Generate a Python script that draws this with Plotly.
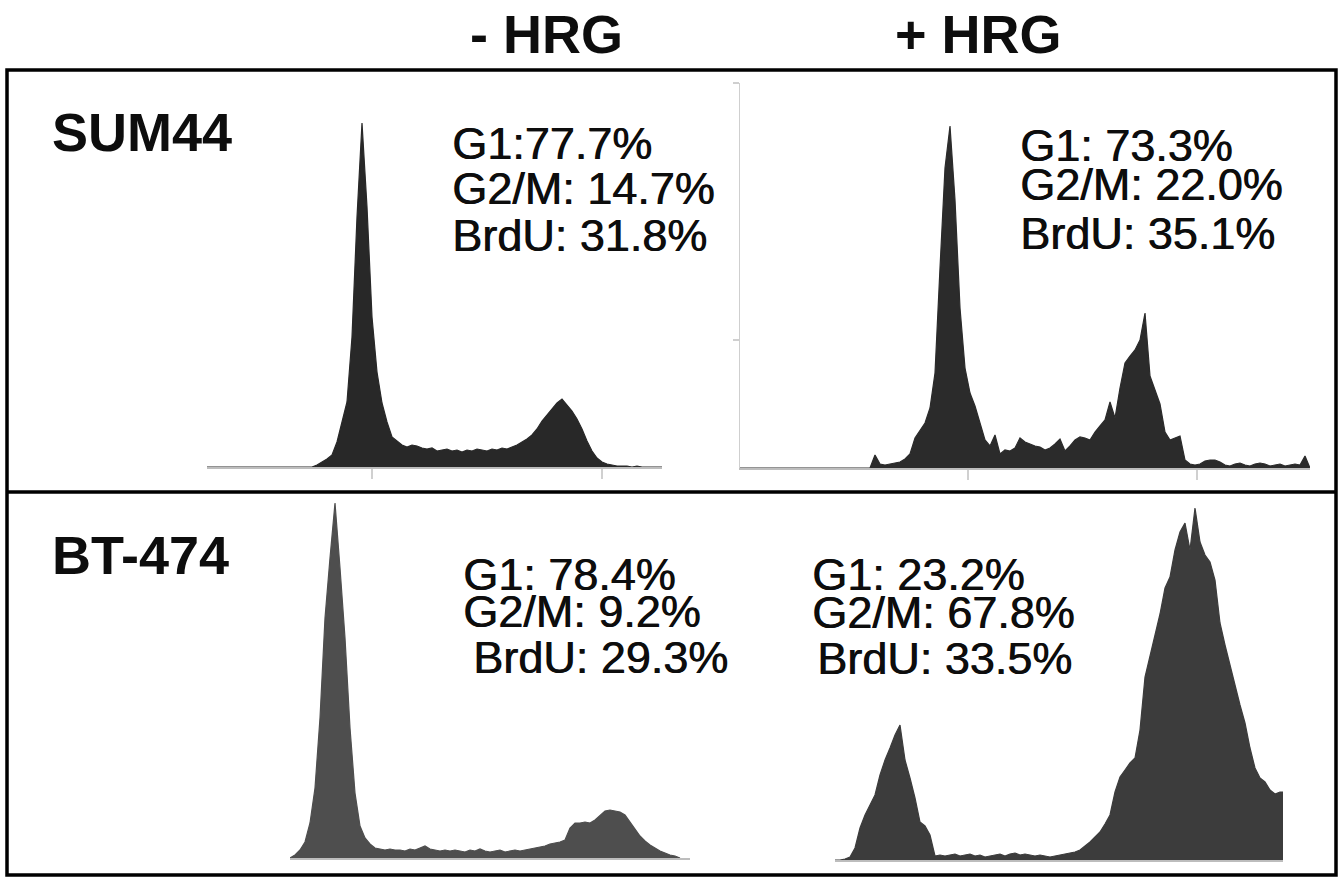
import plotly.graph_objects as go

W, H = 1342, 878

# ---------------- data: DNA-content histograms (counts per channel) ----------------
sum44_minus_hrg = [
    0, 0, 0, 0, 0, 0, 0, 0, 0, 0,
    0, 0, 0, 0, 0, 0, 0, 0, 0, 0,
    0, 0, 2, 5, 8, 12, 25, 45, 65, 130,
    250, 344, 260, 150, 95, 64, 45, 30, 26, 22,
    20, 22, 21, 19, 18, 19, 16, 17, 18, 16,
    17, 15, 17, 16, 18, 17, 16, 18, 17, 19,
    18, 20, 22, 25, 28, 32, 38, 46, 52, 58,
    64, 68, 62, 56, 48, 38, 26, 16, 9, 5,
    3, 2, 1, 1, 1, 0, 1, 0, 0, 0,
    0, 0,
]

sum44_plus_hrg = [
    0, 0, 0, 0, 0, 0, 0, 0, 0, 0,
    0, 0, 0, 0, 0, 0, 0, 0, 0, 0,
    0, 0, 0, 0, 0, 0, 0, 13, 4, 3,
    4, 5, 6, 9, 14, 30, 37, 45, 60, 95,
    200, 300, 342, 268, 160, 100, 75, 62, 45, 28,
    22, 33, 14, 18, 17, 20, 30, 26, 24, 22,
    21, 18, 20, 24, 29, 17, 22, 28, 31, 30,
    28, 36, 42, 48, 66, 50, 80, 105, 112, 118,
    128, 155, 92, 78, 64, 36, 28, 30, 32, 8,
    4, 3, 4, 7, 8, 8, 6, 3, 2, 4,
    5, 3, 2, 4, 5, 4, 2, 3, 4, 2,
    3, 4, 3, 12, 0,
]

bt474_minus_hrg = [
    0, 3, 8, 16, 35, 70, 140, 240, 300, 355,
    290, 220, 130, 65, 32, 20, 14, 10, 9, 8,
    9, 8, 8, 7, 9, 8, 10, 12, 9, 8,
    7, 8, 7, 8, 7, 6, 8, 7, 9, 7,
    6, 7, 8, 6, 7, 8, 7, 8, 9, 10,
    11, 12, 14, 15, 16, 18, 30, 35, 35, 36,
    35, 38, 43, 47, 48, 47, 46, 43, 36, 28,
    22, 17, 13, 10, 7, 5, 3, 2, 0,
]

bt474_plus_hrg = [
    0, 0, 1, 3, 12, 32, 45, 55, 65, 85,
    100, 112, 125, 135, 100, 82, 62, 38, 34, 25,
    4, 5, 4, 5, 6, 4, 5, 6, 4, 5,
    3, 4, 5, 6, 4, 6, 7, 5, 6, 5,
    4, 5, 4, 3, 4, 5, 6, 7, 8, 10,
    14, 18, 23, 28, 36, 45, 68, 83, 90, 97,
    102, 130, 183, 205, 225, 246, 272, 283, 310, 328,
    337, 310, 352, 318, 305, 298, 280, 237, 215, 195,
    172, 155, 137, 112, 92, 82, 78, 70, 66, 68,
    68,
]

cell_lines = ["SUM44", "BT-474"]
treatments = ["- HRG", "+ HRG"]

g1_text = ["G1:77.7%", "G1: 73.3%", "G1: 78.4%", "G1: 23.2%"]
g2m_text = ["G2/M: 14.7%", "G2/M: 22.0%", "G2/M: 9.2%", "G2/M: 67.8%"]
brdu_text = ["BrdU: 31.8%", "BrdU: 35.1%", "BrdU: 29.3%", "BrdU: 33.5%"]

# ---------------- layout helpers (pixel -> paper) ----------------
def fx(p):
    return p / W

def fy(p):
    return 1 - p / H

PX_PER_CH = 5.0
FONT = "Liberation Sans, Arial"

panels = [
    dict(counts=sum44_minus_hrg, x0=207, x1=662, base=467, top=100, color="#282828",
         xt=[33, 79], yline=False, yt=None,
         txt=(450, 450, 450), ty=(143, 189, 236)),
    dict(counts=sum44_plus_hrg, x0=740, x1=1310, base=468, top=83, color="#2b2b2b",
         xt=[45.6, 91.4], yline=True, yt=[128, 385],
         txt=(1018, 1018, 1018), ty=(146, 185, 233)),
    dict(counts=bt474_minus_hrg, x0=290, x1=690, base=858, top=500, color="#4e4e4e",
         xt=None, yline=False, yt=None,
         txt=(461, 461, 471), ty=(574, 611, 657)),
    dict(counts=bt474_plus_hrg, x0=835, x1=1283, base=860, top=500, color="#3c3c3c",
         xt=None, yline=False, yt=None,
         txt=(810, 810, 815), ty=(574, 612, 658)),
]

fig = go.Figure()
layout = dict(
    width=W, height=H, autosize=False,
    margin=dict(l=0, r=0, t=0, b=0, pad=0),
    paper_bgcolor="white", plot_bgcolor="rgba(0,0,0,0)",
    showlegend=False,
)

annotations = []
for i, p in enumerate(panels):
    n = i + 1
    xa = "x" if n == 1 else f"x{n}"
    ya = "y" if n == 1 else f"y{n}"
    ch = list(range(len(p["counts"])))
    fig.add_trace(go.Scatter(
        x=ch, y=p["counts"], mode="lines", fill="tozeroy",
        line=dict(color=p["color"], width=1.2, shape="linear"),
        fillcolor=p["color"], xaxis=xa, yaxis=ya, hoverinfo="skip",
    ))
    xkey = "xaxis" if n == 1 else f"xaxis{n}"
    ykey = "yaxis" if n == 1 else f"yaxis{n}"
    xr = (p["x1"] - p["x0"]) / PX_PER_CH
    yr = p["base"] - p["top"]
    layout[xkey] = dict(
        domain=[fx(p["x0"]), fx(p["x1"])], range=[0, xr], anchor=ya,
        showgrid=False, zeroline=False, showline=True, linecolor="#bdbdbd", linewidth=1.5,
        ticks="outside" if p["xt"] else "", tickvals=p["xt"] or [], ticklen=10,
        tickcolor="#d0d0d0", tickwidth=1.5, showticklabels=False, fixedrange=True,
    )
    layout[ykey] = dict(
        domain=[fy(p["base"]), fy(p["top"])], range=[0, yr], anchor=xa,
        showgrid=False, zeroline=False, showline=p["yline"], linecolor="#cfcfcf", linewidth=1.5,
        ticks="outside" if p["yt"] else "", tickvals=p["yt"] or [], ticklen=6,
        tickcolor="#cfcfcf", tickwidth=1.5, showticklabels=False, fixedrange=True,
    )
    for txt, tx, ty in zip((g1_text[i], g2m_text[i], brdu_text[i]), p["txt"], p["ty"]):
        annotations.append(dict(
            text=txt, x=fx(tx), y=fy(ty), xref="paper", yref="paper",
            xanchor="left", yanchor="middle", showarrow=False,
            font=dict(family=FONT, size=45, color="#0d0d0d",
                      shadow="0.7px 0px 0px #0d0d0d"),
        ))

# column headers
for label, cx in zip(treatments, (546, 978)):
    annotations.append(dict(
        text=f"<b>{label}</b>", x=fx(cx), y=fy(34), xref="paper", yref="paper",
        xanchor="center", yanchor="middle", showarrow=False,
        font=dict(family=FONT, size=54, color="#0d0d0d"),
    ))
# row labels
for label, cy in zip(cell_lines, (132, 555)):
    annotations.append(dict(
        text=f"<b>{label}</b>", x=fx(50), y=fy(cy), xref="paper", yref="paper",
        xanchor="left", yanchor="middle", showarrow=False,
        font=dict(family=FONT, size=54, color="#0d0d0d"),
    ))

layout["annotations"] = annotations
layout["shapes"] = [
    dict(type="rect", xref="paper", yref="paper",
         x0=fx(7), x1=fx(1336), y0=fy(875), y1=fy(70),
         line=dict(color="black", width=3.5), fillcolor="rgba(0,0,0,0)"),
    dict(type="line", xref="paper", yref="paper",
         x0=fx(7), x1=fx(1336), y0=fy(492), y1=fy(492),
         line=dict(color="black", width=3.5)),
]

fig.update_layout(**layout)
fig.write_html(
    "out.html",
    config={"displayModeBar": False, "staticPlot": True},
    post_script="document.body.style.margin='0';document.body.style.overflow='hidden';",
)
